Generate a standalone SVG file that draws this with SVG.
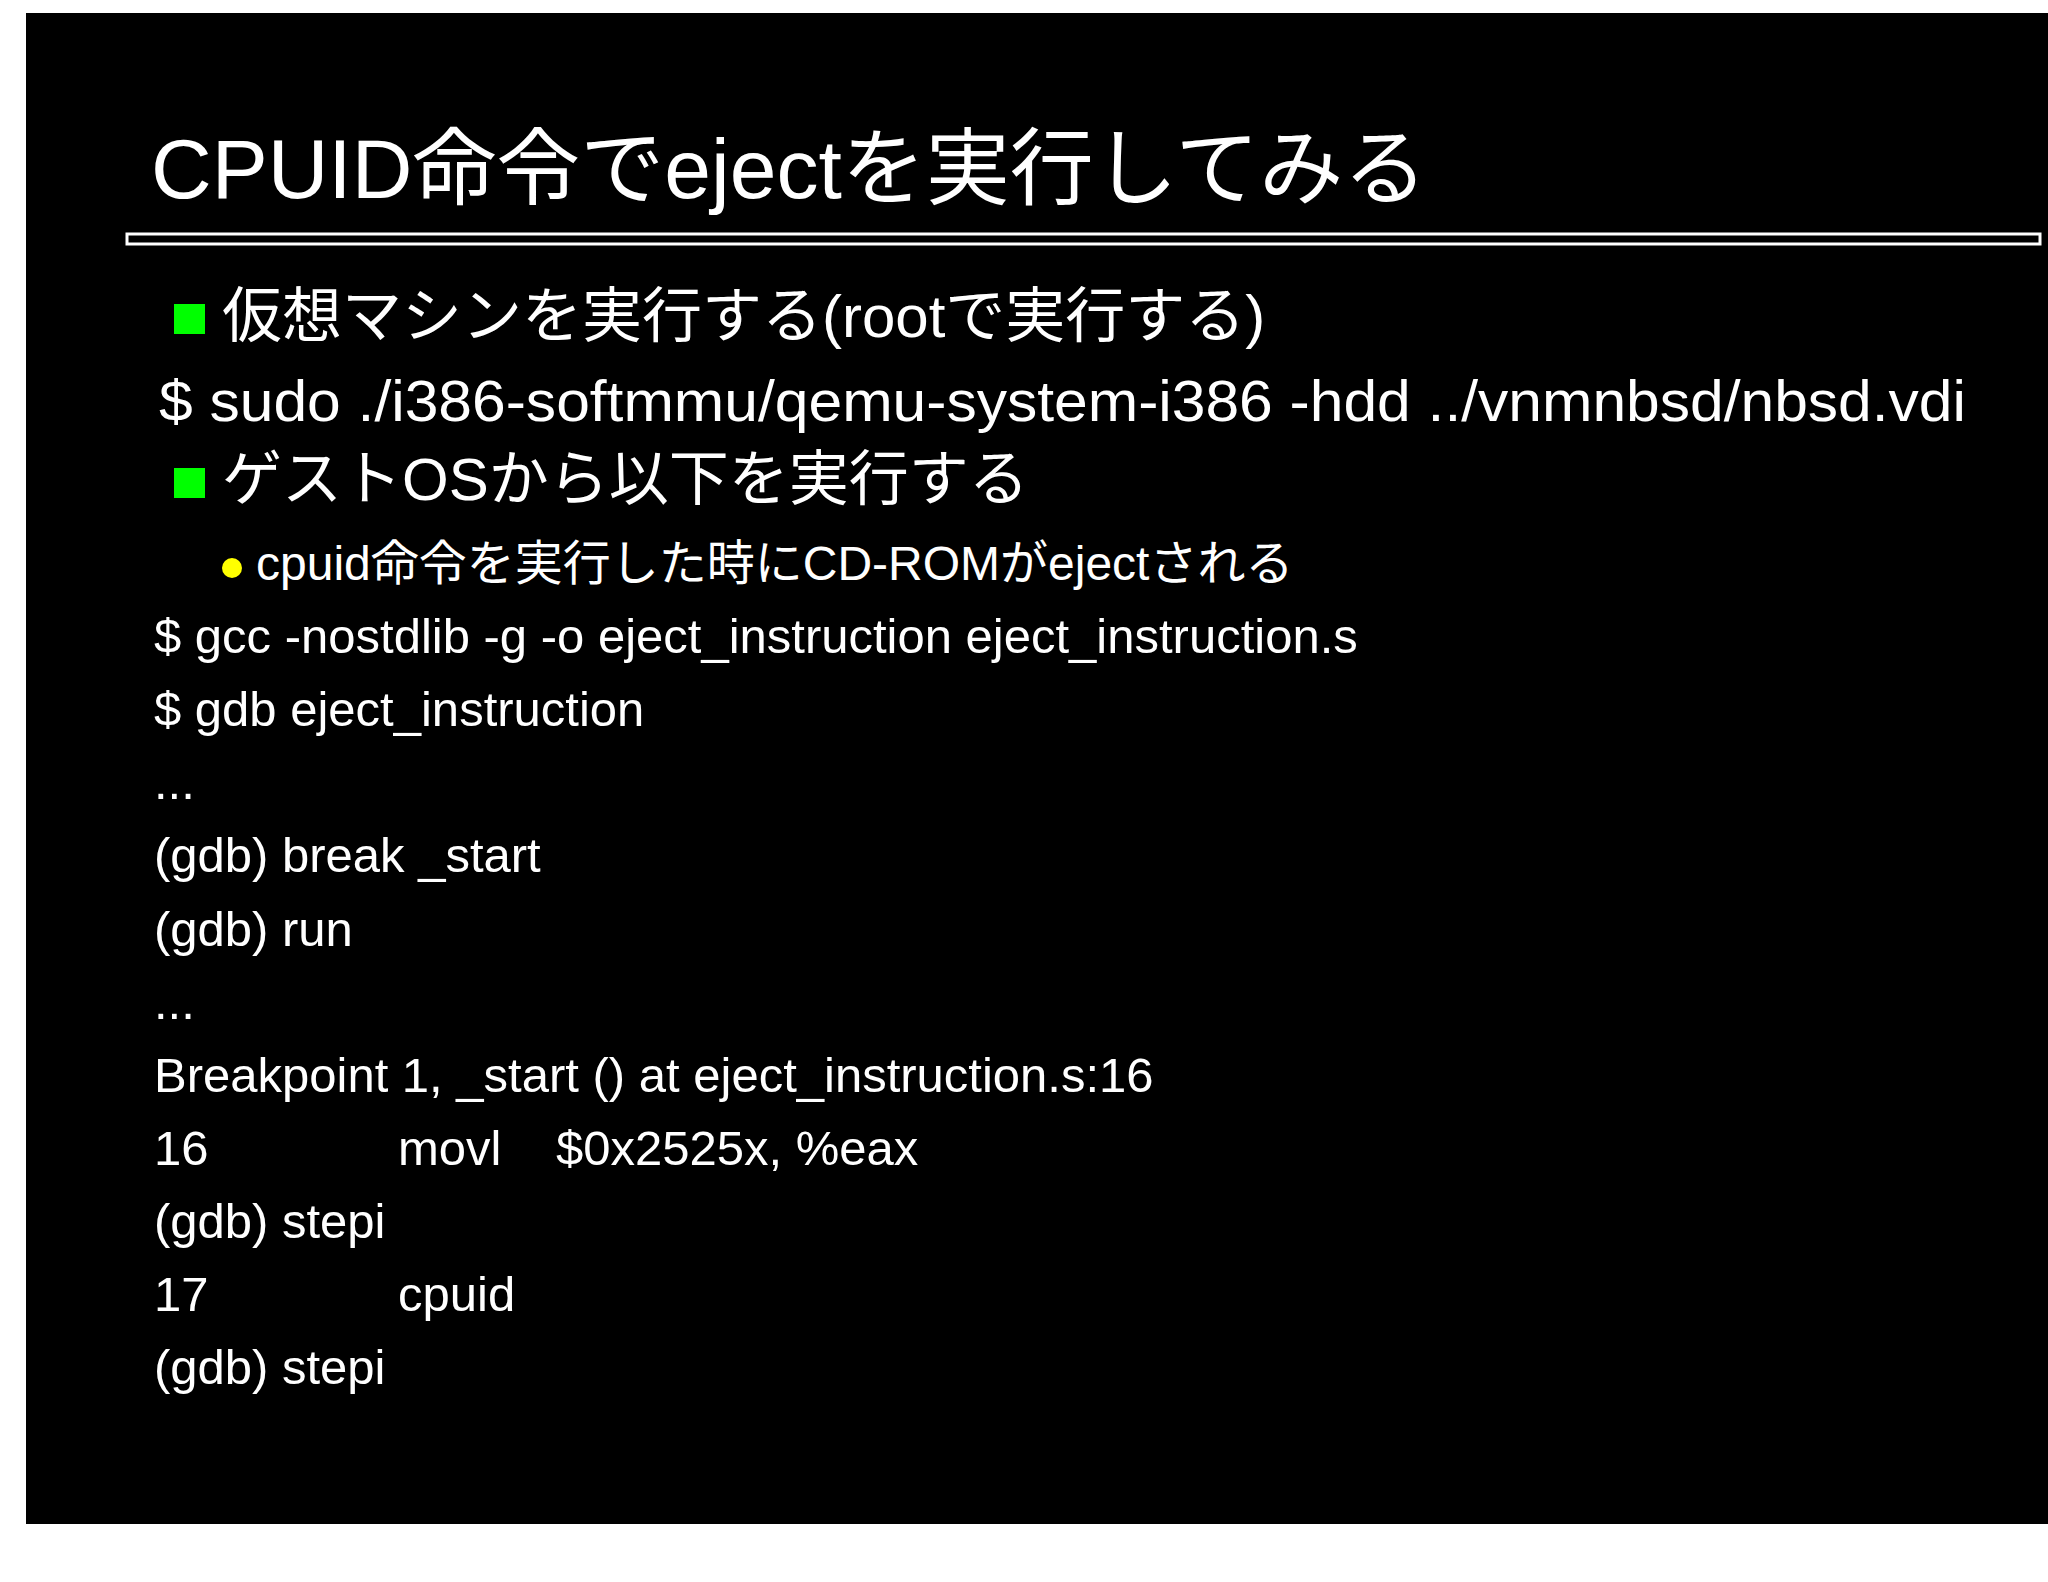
<svg xmlns="http://www.w3.org/2000/svg" width="2048" height="1582" viewBox="0 0 2048 1582">
<style>
text{fill:#fff;font-family:"Liberation Sans","Noto Sans CJK JP",sans-serif}
.c{font-size:49px}
</style>
<rect width="2048" height="1582" fill="#fff"/>
<rect x="26" y="13" width="2022" height="1511" fill="#000"/>
<g id="title"><text x="151" y="198" font-size="84">CPUID命令でejectを実行してみる</text></g>
<g id="rule"><rect x="127" y="234" width="1913" height="10" fill="none" stroke="#fff" stroke-width="3"/></g>
<g id="b1"><rect x="174" y="304" width="31" height="30" fill="#00ff00"/><text x="222" y="337" font-size="60">仮想マシンを実行する(rootで実行する)</text></g>
<g id="cmd1"><text x="159" y="421" font-size="57" textLength="1807" lengthAdjust="spacingAndGlyphs">$ sudo ./i386-softmmu/qemu-system-i386 -hdd ../vnmnbsd/nbsd.vdi</text></g>
<g id="b2"><rect x="174" y="468" width="31" height="30" fill="#00ff00"/><text x="222" y="500" font-size="60">ゲストOSから以下を実行する</text></g>
<g id="b3"><circle cx="232" cy="568" r="10" fill="#ffff00"/><text x="256" y="580" font-size="48">cpuid命令を実行した時にCD-ROMがejectされる</text></g>
<g id="code">
<text class="c" x="154" y="653">$ gcc -nostdlib -g -o eject_instruction eject_instruction.s</text>
<text class="c" x="154" y="726">$ gdb eject_instruction</text>
<text class="c" x="154" y="799">...</text>
<text class="c" x="154" y="872">(gdb) break _start</text>
<text class="c" x="154" y="946">(gdb) run</text>
<text class="c" x="154" y="1019">...</text>
<text class="c" x="154" y="1092">Breakpoint 1, _start () at eject_instruction.s:16</text>
<text class="c" x="154" y="1165">16</text><text class="c" x="398" y="1165">movl</text><text class="c" x="556" y="1165">$0x2525x, %eax</text>
<text class="c" x="154" y="1238">(gdb) stepi</text>
<text class="c" x="154" y="1311">17</text><text class="c" x="398" y="1311">cpuid</text>
<text class="c" x="154" y="1384">(gdb) stepi</text>
</g>
</svg>
